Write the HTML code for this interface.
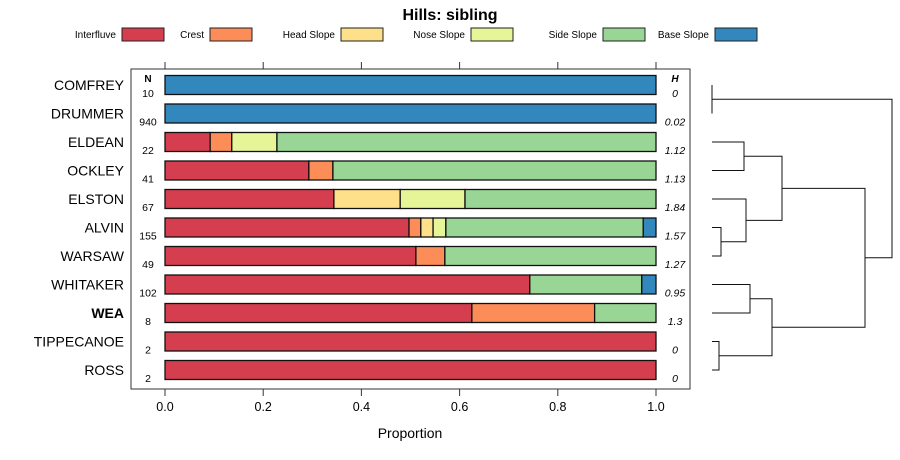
<!DOCTYPE html>
<html><head><meta charset="utf-8"><style>
body{margin:0;background:#fff;}
svg{display:block;font-family:"Liberation Sans",sans-serif;}
</style></head><body>
<svg id="chart" width="900" height="460"></svg>
<script>
const names=["COMFREY","DRUMMER","ELDEAN","OCKLEY","ELSTON","ALVIN","WARSAW","WHITAKER","WEA","TIPPECANOE","ROSS"];
const counts=["10","940","22","41","67","155","49","102","8","2","2"];
const hvals=["0","0.02","1.12","1.13","1.84","1.57","1.27","0.95","1.3","0","0"];
const seriesNames=["Interfluve","Crest","Head Slope","Nose Slope","Side Slope","Base Slope"];
const colors=["#D53E4F","#FC8D59","#FEE08B","#E6F598","#99D594","#3288BD"];
const interfluve=[0,0,0.092,0.293,0.344,0.497,0.511,0.743,0.625,1,1];
const crest=[0,0,0.044,0.049,0,0.024,0.059,0,0.25,0,0];
const headSlope=[0,0,0,0,0.135,0.025,0,0,0,0,0];
const noseSlope=[0,0,0.092,0,0.132,0.026,0,0,0,0,0];
const sideSlope=[0,0,0.772,0.658,0.389,0.402,0.43,0.228,0.125,0,0];
const baseSlope=[1,1,0,0,0,0.026,0,0.029,0,0,0];
const xTicks=[0,0.2,0.4,0.6,0.8,1.0];
// dendrogram merges: [left, right, height]; leaf = {leaf:i}, else merge index
const merges=[[{leaf:0},{leaf:1},0],[{leaf:2},{leaf:3},32],[{leaf:5},{leaf:6},9],[{leaf:4},2,34],[1,3,70],[{leaf:7},{leaf:8},38],[{leaf:9},{leaf:10},7],[5,6,60],[4,7,153],[0,8,180]];

const NS="http://www.w3.org/2000/svg";
const svg=document.getElementById('chart');
function el(t,a,p){const e=document.createElementNS(NS,t);for(const k in a)e.setAttribute(k,a[k]);(p||svg).appendChild(e);return e;}
const x0=165,x1=656;
const xs=v=>x0+(x1-x0)*v;
const y0=85,dy=28.5;
const ys=i=>y0+i*dy;

let t=el('text',{x:450,y:20,'text-anchor':'middle','font-size':16,'font-weight':'bold'});t.textContent="Hills: sibling";


const legTextX=[68,181,274,400,525,646];
const legBoxX=[122,210,341,471,603,715];
seriesNames.forEach((s,i)=>{
  const g=el('g',{});
  
  
  const tt=el('text',{x:legBoxX[i]-6,y:38,'font-size':10,'text-anchor':'end'},g);tt.textContent=s;
  el('rect',{x:legBoxX[i],y:28,width:42,height:13,fill:colors[i],stroke:'#222','stroke-width':1},g);
});

const box=el('rect',{x:131,y:69,width:559,height:320,fill:'none',stroke:'#333'});


xTicks.forEach(v=>{
  el('line',{x1:xs(v),x2:xs(v),y1:62,y2:69,stroke:'#333'});
  el('line',{x1:xs(v),x2:xs(v),y1:389,y2:396,stroke:'#333'});
  const tl=el('text',{x:xs(v),y:411,'text-anchor':'middle','font-size':12.5});tl.textContent=v.toFixed(1);
  
});
t=el('text',{x:410,y:438,'text-anchor':'middle','font-size':14});t.textContent="Proportion";


t=el('text',{x:148,y:82,'text-anchor':'middle','font-size':10,'font-weight':'bold'});t.textContent="N";
t=el('text',{x:675,y:82,'text-anchor':'middle','font-size':10,'font-weight':'bold','font-style':'italic'});t.textContent="H";

const series=[interfluve,crest,headSlope,noseSlope,sideSlope,baseSlope];
names.forEach((n,i)=>{
  const y=ys(i);
  const lab=el('text',{x:124,y:y+5,'text-anchor':'end','font-size':14,'font-weight':n==="WEA"?'bold':'normal'});lab.textContent=n;
  
  const c=el('text',{x:148,y:y+12,'text-anchor':'middle','font-size':10.5});c.textContent=counts[i];
  
  const h=el('text',{x:675,y:y+12,'text-anchor':'middle','font-size':10.5,'font-style':'italic'});h.textContent=hvals[i];
  
  let acc=0;
  series.forEach((s,k)=>{
    const v=s[i];if(v<=0)return;
    const r=el('rect',{x:xs(acc),y:y-9.5,width:xs(acc+v)-xs(acc),height:19,fill:colors[k],stroke:'#111','stroke-width':1.3});
    
    acc+=v;
  });
});

const dx0=712;
const nodeY=[],nodeX=[];
merges.forEach((m,j)=>{
  const get=id=>typeof id==='object'?{x:dx0,y:ys(id.leaf)}:{x:nodeX[id],y:nodeY[id]};
  const a=get(m[0]),b=get(m[1]);
  const hx=dx0+m[2];
  const p=el('path',{d:`M${a.x},${a.y}H${hx}V${b.y}H${b.x}`,fill:'none',stroke:'#111','stroke-width':1});
  
  nodeX[j]=hx;nodeY[j]=(a.y+b.y)/2;
});
</script>
</body></html>
